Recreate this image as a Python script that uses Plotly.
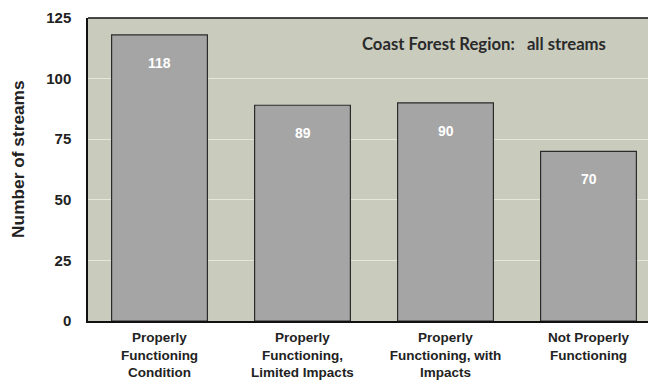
import plotly.graph_objects as go

categories = ['Properly<br>Functioning<br>Condition',
              'Properly<br>Functioning,<br>Limited Impacts',
              'Properly<br>Functioning, with<br>Impacts',
              'Not Properly<br>Functioning']
counts = [118, 89, 90, 70]
y_ticks = [0, 25, 50, 75, 100, 125]

# page body adds an 8px offset, so margins are set 8px smaller on the top/left
W, H = 656, 381
left, right, top, bottom = 80, 0, 10, 68

fig = go.Figure()
fig.add_trace(go.Bar(
    x=list(range(len(categories))), y=counts,
    width=0.67,
    marker=dict(color='#a5a5a5', line=dict(color='#2b2b2b', width=1.2)),
    hoverinfo='skip'))

# white value labels near the top of each bar
for i, v in enumerate(counts):
    fig.add_annotation(x=i, y=v, text=str(v), showarrow=False, yshift=-28,
                       font=dict(family='Liberation Sans', size=14, color='white', weight='bold'))

fig.add_annotation(xref='paper', yref='paper', x=0.472, y=0.914, xanchor='left', yanchor='middle',
                   text='Coast Forest Region:   all streams', showarrow=False,
                   font=dict(family='Lato', size=16.7, color='#2a2a2a', weight='bold'))

# y axis title placed as annotation (sits a bit above the plot centre in the original)
fig.add_annotation(xref='paper', yref='paper', x=-0.1215, y=0.535, xanchor='center', yanchor='middle',
                   text='Number of streams', textangle=-90, showarrow=False,
                   font=dict(family='Liberation Sans', size=17.3, color='#222', weight='bold'))

plot_w = W - left - right
px_per_cat = 143
fig.update_xaxes(range=[-0.5, -0.5 + plot_w / px_per_cat],
                 tickvals=list(range(len(categories))), ticktext=categories,
                 tickfont=dict(family='Liberation Sans', size=13.5, color='#222', weight='bold'),
                 showgrid=False, showline=True, linecolor='#111', linewidth=1.5,
                 ticks='', ticklabelstandoff=3, zeroline=False, fixedrange=True, automargin=False)
fig.update_yaxes(range=[0, 125], tickvals=y_ticks,
                 tickfont=dict(family='Liberation Sans', size=15, color='#222', weight='bold'),
                 showgrid=True, gridcolor='#e6e7dc', gridwidth=1,
                 showline=True, linecolor='#111', linewidth=1.5, mirror=False,
                 ticks='', ticklabelstandoff=12, zeroline=False, automargin=False)

fig.add_shape(type='line', xref='paper', yref='paper', x0=0, x1=1, y0=1, y1=1,
              line=dict(color='#111', width=1.5))

fig.update_layout(width=W, height=H, margin=dict(l=left, r=right, t=top, b=bottom),
                  plot_bgcolor='#c9cbbd', paper_bgcolor='white', showlegend=False)

fig.write_html("out.html")
